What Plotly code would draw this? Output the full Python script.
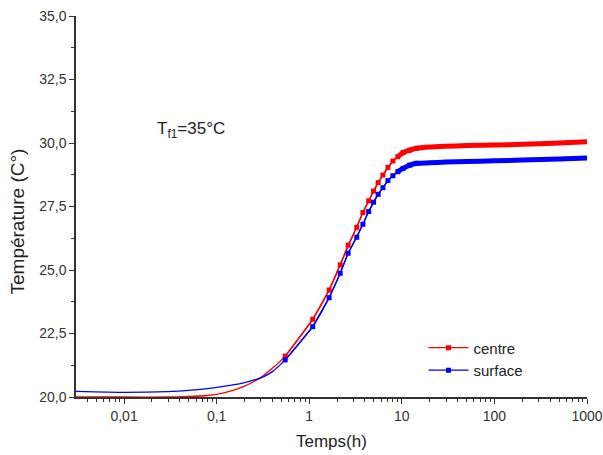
import plotly.graph_objects as go

# temps (h) et températures
t_debut = [0.003, 0.01, 0.03, 0.05, 0.08, 0.1, 0.15, 0.2, 0.25, 0.3, 0.4]
centre_debut = [20.0, 20.0, 20.0, 20.02, 20.06, 20.1, 20.26, 20.43, 20.6, 20.77, 21.13]
surface_debut = [20.22, 20.18, 20.21, 20.26, 20.33, 20.38, 20.48, 20.57, 20.66, 20.75, 21.0]

t_pts = [0.55, 1.09, 1.64, 2.16, 2.63, 3.26, 3.8, 4.38, 4.95, 5.55, 6.25, 7.08, 8.0, 9.05, 10.3, 12.2, 14.4]
centre_pts = [21.61, 23.06, 24.21, 25.20, 25.98, 26.68, 27.26, 27.72, 28.11, 28.44, 28.74, 29.04, 29.29, 29.46, 29.62, 29.72, 29.79]
surface_pts = [21.46, 22.77, 23.91, 24.87, 25.66, 26.29, 26.80, 27.30, 27.67, 27.98, 28.24, 28.52, 28.71, 28.87, 29.00, 29.13, 29.20]

t_plateau = [20, 30, 50, 100, 200, 500, 1000]
centre_plateau = [29.84, 29.87, 29.90, 29.92, 29.95, 30.0, 30.05]
surface_plateau = [29.22, 29.25, 29.27, 29.30, 29.33, 29.37, 29.41]

x_ticks = [0.01, 0.1, 1, 10, 100, 1000]
x_labels = ["0,01", "0,1", "1", "10", "100", "1000"]
x_minor = [m * 10 ** e for e in range(-3, 3) for m in range(2, 10)]
x_minor = [v for v in x_minor if v > 0.00303]

fig = go.Figure()

series = [("centre", "#ff0000", centre_debut, centre_pts, centre_plateau),
          ("surface", "#0000ff", surface_debut, surface_pts, surface_plateau)]

for nom, col, deb, pts, plat in series:
    # courbe continue
    fig.add_trace(go.Scatter(x=t_debut + t_pts + t_plateau, y=deb + pts + plat, mode="lines",
                             line=dict(color=col, width=1.3, shape="spline", smoothing=0.5),
                             showlegend=False, hoverinfo="skip"))
    # zone dense de points (bande épaisse)
    n = 13
    fig.add_trace(go.Scatter(x=t_pts[n:] + t_plateau, y=pts[n:] + plat, mode="lines",
                             line=dict(color=col, width=5, shape="spline", smoothing=0.5),
                             showlegend=False, hoverinfo="skip"))
    fig.add_trace(go.Scatter(x=t_pts, y=pts, mode="lines+markers", name=nom,
                             line=dict(color=col, width=1.3),
                             marker=dict(color=col, size=5, symbol="square")))

axis_common = dict(showline=True, linecolor="#333333", linewidth=1.5, ticks="outside",
                   tickcolor="#333333", ticklen=5, tickwidth=1.2, showgrid=False, zeroline=False,
                   tickfont=dict(family="Liberation Sans, Arial", size=14, color="#333333"),
                   mirror=False, automargin=False)

fig.update_xaxes(type="log", range=[-2.519, 3.0], tickvals=x_ticks, ticktext=x_labels,
                 minor=dict(ticks="outside", ticklen=3, tickcolor="#333333", tickvals=x_minor, showgrid=False),
                 **axis_common)
fig.update_yaxes(range=[20, 35], dtick=2.5, tickformat=".1f",
                 minor=dict(ticks="outside", ticklen=3, tickcolor="#333333", dtick=1.25, showgrid=False),
                 **axis_common)

# titres des axes placés à la main (automargin désactivé)
fig.add_annotation(x=0.5, y=-0.117, xref="paper", yref="paper", showarrow=False,
                   xanchor="center", yanchor="middle",
                   text="Temps(h)", font=dict(size=17, color="#222222"))
fig.add_annotation(x=-0.114, y=0.46, xref="paper", yref="paper", showarrow=False, textangle=-90,
                   xanchor="center", yanchor="middle",
                   text="Température (C°)", font=dict(size=19, color="#222222"))
fig.add_annotation(x=0.226, y=0.70, xref="paper", yref="paper", showarrow=False,
                   xanchor="center", yanchor="middle",
                   text="T<sub>f1</sub>=35°C", font=dict(size=17, color="#222222"))

fig.update_layout(width=603, height=455, separators=",.",
                  margin=dict(l=76, r=16, t=16, b=58),
                  paper_bgcolor="white", plot_bgcolor="white",
                  font=dict(family="Liberation Sans, Arial", color="#222222"),
                  legend=dict(x=0.68, y=0.172, xanchor="left", yanchor="top",
                              bgcolor="rgba(0,0,0,0)", font=dict(size=15),
                              tracegroupgap=0, itemwidth=40))

# la page du navigateur garde sinon une marge de 8 px
fig.write_html("out.html", config={"displayModeBar": False},
               post_script="document.body.style.margin='0';")
